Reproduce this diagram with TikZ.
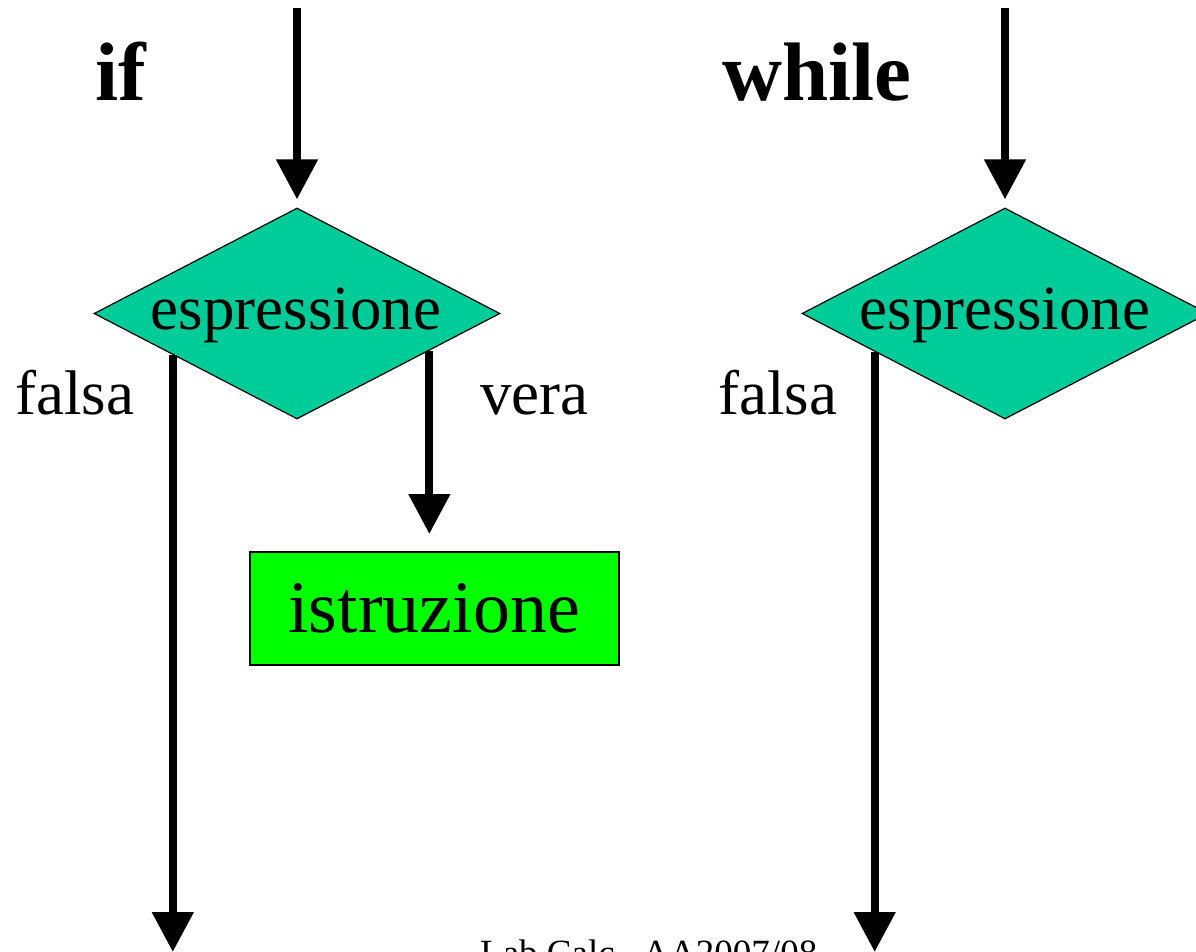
\documentclass[tikz,border=0pt]{standalone}
\usepackage{fontspec}
\setmainfont{Liberation Serif}
\usetikzlibrary{shapes.geometric,arrows.meta,calc}
\definecolor{teal}{RGB}{0,204,153}
\definecolor{brightgreen}{RGB}{0,255,0}
\tikzset{
  flow/.style={line width=8pt,-{Triangle[length=40pt,width=40pt]}},
  cond/.style={diamond,draw=black,line width=1.2pt,fill=teal,minimum width=406pt,minimum height=211pt,inner sep=0pt},
  instr/.style={rectangle,draw=black,line width=2pt,fill=brightgreen,minimum width=369pt,minimum height=113pt,inner sep=0pt},
  lbl/.style={inner sep=0pt,font=\fontsize{63}{63}\selectfont},
  title/.style={inner sep=0pt,font=\fontsize{83}{83}\selectfont\bfseries},
}
\begin{document}
\begin{tikzpicture}[x=1pt,y=-1pt]
\useasboundingbox (0,0) rectangle (1196,951);
% if
\node[title,anchor=base west] (tif) at (95,100) {if};
\node[cond] (d1) at (297,313.5) {};
\node[lbl,anchor=base] (e1) at (296,329) {espressione};
\coordinate (s1) at (297,8);
\draw[flow] (s1) -- ($(d1.north)+(0,-8)$);
\node[instr] (ist) at (434.5,608.5) {};
\node[inner sep=0pt,anchor=base,font=\fontsize{74}{74}\selectfont] (ti) at (434,632) {istruzione};
\node[lbl,anchor=base west] (f1) at (15,414) {falsa};
\node[lbl,anchor=base west] (v1) at (480,414) {vera};
\coordinate (fa1) at ($(d1.west)!0.39!(d1.south)$);
\coordinate (va1) at ($(d1.east)!0.35!(d1.south)$);
\coordinate (e1end) at (171,952);
\draw[flow] (fa1) -- (fa1 |- e1end);
\draw[flow] (va1) -- ($(va1 |- ist.north)+(0,-17)$);
% while
\node[title,anchor=base west] (tw) at (722,100) {while};
\node[cond] (d2) at (1005,313.5) {};
\node[lbl,anchor=base] (e2) at (1005,329) {espressione};
\coordinate (s2) at (1005,8);
\draw[flow] (s2) -- ($(d2.north)+(0,-8)$);
\node[lbl,anchor=base west] (f2) at (718,414) {falsa};
\coordinate (fa2) at ($(d2.west)!0.36!(d2.south)$);
\draw[flow] (fa2) -- (fa2 |- e1end);
% footer
\node[inner sep=0pt,anchor=base west,font=\fontsize{37}{37}\selectfont] (foot) at (480,965) {Lab Calc.\ \ AA2007/08};
\end{tikzpicture}
\end{document}
